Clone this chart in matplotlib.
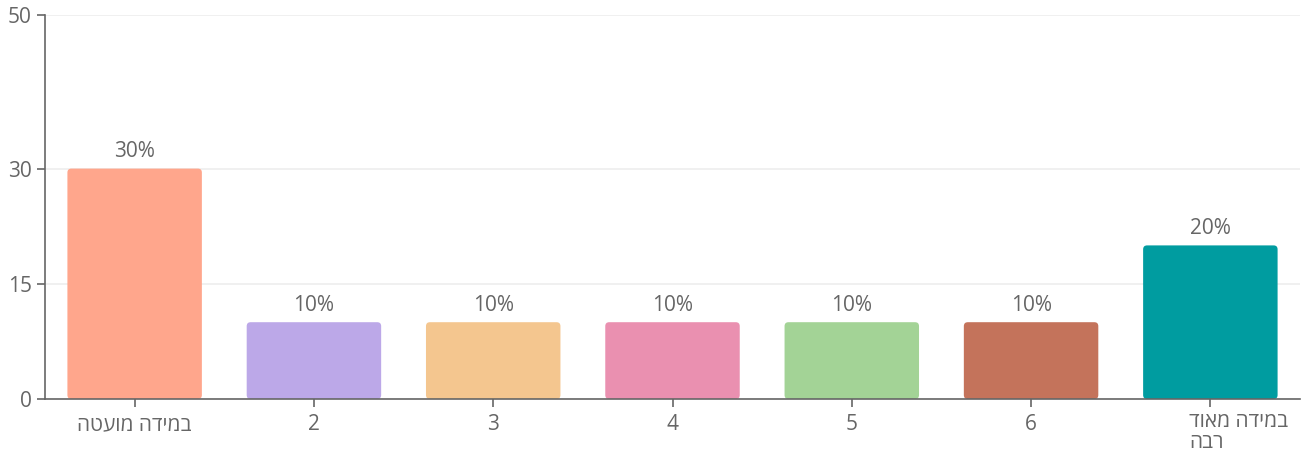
import matplotlib
matplotlib.use("Agg")
import matplotlib.pyplot as plt
from matplotlib.patches import FancyBboxPatch

# --- Données ---
categories = ["במידה מועטה", "2", "3", "4", "5", "6", "במידה מאוד\nרבה"]
valeurs = [30, 10, 10, 10, 10, 10, 20]
etiquettes = ["30%", "10%", "10%", "10%", "10%", "10%", "20%"]
couleurs = ["#FFA68C", "#BCA8E8", "#F4C68F", "#EA90B0", "#A3D396", "#C4735B", "#009CA0"]
graduations_y = [0, 15, 30, 50]

plt.rcParams["font.family"] = ["Open Sans", "DejaVu Sans"]
gris = "#666666"
taille = 15


def visuel(texte):
    # matplotlib ne gère pas le sens droite-gauche : on inverse chaque ligne
    return "\n".join(ligne[::-1] for ligne in texte.split("\n"))


fig = plt.figure(figsize=(13.13, 4.57), dpi=100)
ax = fig.add_axes([45 / 1313, 58 / 457, 1255 / 1313, 384 / 457])

x = list(range(len(valeurs)))
barres = ax.bar(x, valeurs, width=0.75, color=couleurs)

# coins arrondis
for b, c in zip(barres, couleurs):
    b.set_visible(False)
    p = FancyBboxPatch((b.get_x(), 0), b.get_width(), b.get_height(),
                       boxstyle="round,pad=0,rounding_size=0.022",
                       mutation_aspect=23.3, facecolor=c, edgecolor="none", zorder=2)
    ax.add_patch(p)

for xi, v, t in zip(x, valeurs, etiquettes):
    ax.text(xi, v + 0.8, t, ha="center", va="bottom", fontsize=taille, color=gris)

ax.set_xlim(-0.5, 6.5)
ax.set_ylim(0, 50)
ax.set_yticks(graduations_y)
ax.set_yticklabels([str(g) for g in graduations_y], fontsize=taille, color=gris)
ax.yaxis.grid(True, color="#EEEEEE", linewidth=1.2, zorder=0)
ax.set_axisbelow(True)

ax.set_xticks(x)
labels = [visuel(c) for c in categories[:-1]] + [""]
ax.set_xticklabels(labels, fontsize=taille, color=gris)
# dernière étiquette sur deux lignes, alignée à gauche
ax.text(6 - 0.12, -1.5, visuel(categories[-1]), ha="left", va="top",
        fontsize=taille, color=gris, multialignment="left", linespacing=1.0)

for s in ["top", "right"]:
    ax.spines[s].set_visible(False)
for s in ["left", "bottom"]:
    ax.spines[s].set_color(gris)
    ax.spines[s].set_linewidth(1.2)
ax.tick_params(axis="both", colors=gris, length=6, width=1.2, labelcolor=gris)
ax.tick_params(axis="x", pad=5)

fig.savefig("out.png", dpi=100)
